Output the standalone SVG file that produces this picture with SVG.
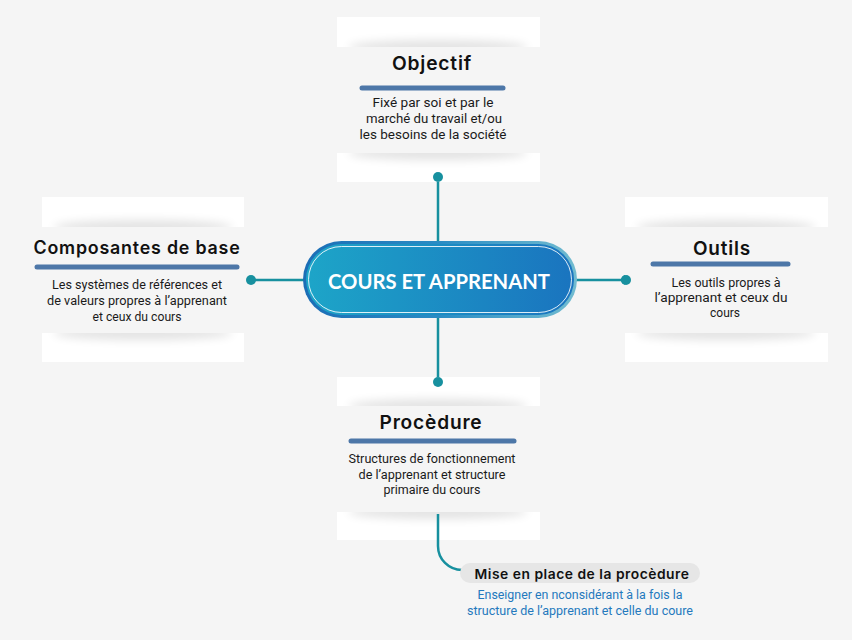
<svg xmlns="http://www.w3.org/2000/svg" width="852" height="640" viewBox="0 0 852 640">
<defs>
<linearGradient id="pillFill" x1="0" y1="0" x2="1" y2="0">
<stop offset="0" stop-color="#1da5c8"/>
<stop offset="1" stop-color="#1a74bf"/>
</linearGradient>
<linearGradient id="pillRim" x1="0" y1="0" x2="1" y2="0">
<stop offset="0" stop-color="#1b6db6"/>
<stop offset="0.5" stop-color="#2a8cc4"/>
<stop offset="1" stop-color="#72bcd0"/>
</linearGradient>
<filter id="blur" x="-20%" y="-100%" width="140%" height="300%">
<feGaussianBlur stdDeviation="5"/>
</filter>
</defs>
<style>
.card{fill:#ffffff}
.band{fill:#f5f5f5}
.shadow{fill:#000;opacity:0.11;filter:url(#blur)}
.bar{stroke:#4d77a8;stroke-width:5;stroke-linecap:round}
.title{font-family:Inter,"Noto Sans",sans-serif;font-weight:600;fill:#111;text-anchor:middle;letter-spacing:0.8px}
.body{font-family:Roboto,"Liberation Sans",sans-serif;font-size:12px;fill:#1a1a1a;text-anchor:middle}
.conn{stroke:#17909f;stroke-width:2.5;fill:none}
.dot{fill:#17909f}
</style>
<rect width="852" height="640" fill="#f5f5f5"/>

<g id="connectors">
<line class="conn" x1="438" y1="177" x2="438" y2="242"/>
<line class="conn" x1="251" y1="280" x2="304" y2="280"/>
<line class="conn" x1="576" y1="280" x2="626" y2="280"/>
<line class="conn" x1="438" y1="318" x2="438" y2="382"/>
<path class="conn" d="M438,516 V546 A24,24 0 0 0 462,570"/>
<circle class="dot" cx="438" cy="177" r="5"/>
<circle class="dot" cx="251" cy="280" r="5"/>
<circle class="dot" cx="626" cy="280" r="5"/>
<circle class="dot" cx="438" cy="382" r="5"/>
</g>

<g id="objectif">
<rect class="card" x="337" y="17" width="203" height="165"/>
<ellipse class="shadow" cx="438" cy="47" rx="90" ry="7"/>
<ellipse class="shadow" cx="438" cy="153" rx="90" ry="7"/>
<rect class="band" x="337" y="47" width="203" height="106"/>
<circle class="dot" cx="438" cy="177" r="5"/>
<text class="title" x="432" y="70" font-size="19" textLength="80" lengthAdjust="spacingAndGlyphs">Objectif</text>
<line class="bar" x1="362" y1="88" x2="503" y2="88"/>
<text class="body" x="433" y="107" textLength="121" lengthAdjust="spacingAndGlyphs">Fixé par soi et par le</text>
<text class="body" x="434" y="123" textLength="136" lengthAdjust="spacingAndGlyphs">marché du travail et/ou</text>
<text class="body" x="433" y="139" textLength="147" lengthAdjust="spacingAndGlyphs">les besoins de la société</text>
</g>

<g id="composantes">
<rect class="card" x="42" y="197" width="202" height="165"/>
<ellipse class="shadow" cx="143" cy="227" rx="90" ry="7"/>
<ellipse class="shadow" cx="143" cy="333" rx="90" ry="7"/>
<rect class="band" x="42" y="227" width="202" height="106"/>
<text class="title" x="137" y="254" font-size="18" textLength="207" lengthAdjust="spacingAndGlyphs">Composantes de base</text>
<line class="bar" x1="37" y1="267" x2="237" y2="267"/>
<text class="body" x="137" y="289" textLength="170" lengthAdjust="spacingAndGlyphs">Les systèmes de références et</text>
<text class="body" x="137" y="305" textLength="180" lengthAdjust="spacingAndGlyphs">de valeurs propres à l’apprenant</text>
<text class="body" x="137" y="321" textLength="89" lengthAdjust="spacingAndGlyphs">et ceux du cours</text>
</g>

<g id="outils">
<rect class="card" x="625" y="197" width="203" height="165"/>
<ellipse class="shadow" cx="726" cy="227" rx="90" ry="7"/>
<ellipse class="shadow" cx="726" cy="333" rx="90" ry="7"/>
<rect class="band" x="625" y="227" width="203" height="106"/>
<circle class="dot" cx="626" cy="280" r="5"/>
<text class="title" x="722" y="255" font-size="19" textLength="58" lengthAdjust="spacingAndGlyphs">Outils</text>
<line class="bar" x1="653" y1="264" x2="788" y2="264"/>
<text class="body" x="726" y="287" textLength="109" lengthAdjust="spacingAndGlyphs">Les outils propres à</text>
<text class="body" x="721" y="302" textLength="133" lengthAdjust="spacingAndGlyphs">l’apprenant et ceux du</text>
<text class="body" x="725" y="317">cours</text>
</g>

<g id="procedure">
<rect class="card" x="337" y="377" width="203" height="163"/>
<ellipse class="shadow" cx="438" cy="406" rx="90" ry="7"/>
<ellipse class="shadow" cx="438" cy="512" rx="90" ry="7"/>
<rect class="band" x="337" y="406" width="203" height="106"/>
<circle class="dot" cx="438" cy="382" r="5"/>
<line class="conn" x1="438" y1="514" x2="438" y2="540"/>
<text class="title" x="431" y="429" font-size="19" textLength="103" lengthAdjust="spacingAndGlyphs">Procèdure</text>
<line class="bar" x1="351" y1="441" x2="514" y2="441"/>
<text class="body" x="432" y="463" textLength="167" lengthAdjust="spacingAndGlyphs">Structures de fonctionnement</text>
<text class="body" x="432" y="479" textLength="147" lengthAdjust="spacingAndGlyphs">de l’apprenant et structure</text>
<text class="body" x="432" y="494" textLength="97" lengthAdjust="spacingAndGlyphs">primaire du cours</text>
</g>

<g id="center">
<rect x="303" y="241" width="274" height="77" rx="38.5" fill="url(#pillRim)"/>
<rect x="306" y="244" width="268" height="71" rx="35.5" fill="url(#pillFill)"/>
<rect x="308.5" y="246.5" width="263" height="66" rx="33" fill="none" stroke="#ffffff" stroke-opacity="0.85" stroke-width="1"/>
<text x="439" y="289" font-family="Lato,'Open Sans',sans-serif" font-weight="700" font-size="20" fill="#ffffff" text-anchor="middle" textLength="222" lengthAdjust="spacingAndGlyphs">COURS ET APPRENANT</text>
</g>

<g id="mise-en-place">
<rect x="460" y="563" width="240" height="20" rx="10" fill="#e6e6e6"/>
<text class="title" x="582" y="578.5" font-size="13.5" textLength="215" lengthAdjust="spacingAndGlyphs" style="letter-spacing:0.5px">Mise en place de la procèdure</text>
<text class="body" x="580" y="599" style="fill:#2479bd" textLength="205" lengthAdjust="spacingAndGlyphs">Enseigner en nconsidérant à la fois la</text>
<text class="body" x="580" y="615" style="fill:#2479bd" textLength="226" lengthAdjust="spacingAndGlyphs">structure de l’apprenant et celle du coure</text>
</g>
</svg>
